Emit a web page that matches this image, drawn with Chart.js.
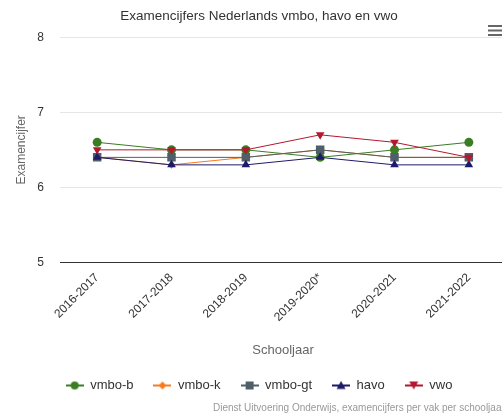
<!DOCTYPE html>
<html>
<head>
<meta charset="utf-8">
<script src="https://cdn.jsdelivr.net/npm/chart.js@4/dist/chart.umd.min.js"></script>
<style>
html,body{margin:0;padding:0;background:#fff;overflow:hidden;}
#wrap{position:relative;width:512px;height:419px;}
</style>
</head>
<body>
<div id="wrap"><canvas id="c"></canvas></div>
<script>
const categories = ['2016-2017','2017-2018','2018-2019','2019-2020*','2020-2021','2021-2022'];
const seriesNames = ['vmbo-b','vmbo-k','vmbo-gt','havo','vwo'];
const vmboB  = [6.6, 6.5, 6.5, 6.4, 6.5, 6.6];
const vmboK  = [6.4, 6.3, 6.4, 6.5, 6.4, 6.4];
const vmboGt = [6.4, 6.4, 6.4, 6.5, 6.4, 6.4];
const havo   = [6.4, 6.3, 6.3, 6.4, 6.3, 6.3];
const vwo    = [6.5, 6.5, 6.5, 6.7, 6.6, 6.4];
const yTicks = [5, 6, 7, 8];

const FONT = '"Liberation Sans", Arial, Helvetica, sans-serif';
const styles = [
  {color:'#3a7d23', pointStyle:'circle', radius:4.5, rotation:0},
  {color:'#f47c20', pointStyle:'rectRot', radius:4, rotation:0},
  {color:'#4f5f6a', pointStyle:'rect', radius:6, rotation:0},
  {color:'#1e1a6b', pointStyle:'triangle', radius:5, rotation:0},
  {color:'#b3182f', pointStyle:'triangle', radius:5, rotation:180}
];
const values = [vmboB, vmboK, vmboGt, havo, vwo];

function legendIcon(st){
  const cv = document.createElement('canvas');
  cv.width = 18; cv.height = 12;
  const g = cv.getContext('2d');
  g.strokeStyle = st.color; g.lineWidth = 2;
  g.beginPath(); g.moveTo(0,6); g.lineTo(18,6); g.stroke();
  g.fillStyle = st.color;
  g.beginPath();
  const x=9,y=6;
  if(st.pointStyle==='circle'){ g.arc(x,y,4,0,Math.PI*2); }
  else if(st.pointStyle==='rectRot'){ g.moveTo(x,y-4);g.lineTo(x+4,y);g.lineTo(x,y+4);g.lineTo(x-4,y); }
  else if(st.pointStyle==='rect'){ g.rect(x-4,y-4,8,8); }
  else if(st.rotation===180){ g.moveTo(x-4.5,y-4);g.lineTo(x+4.5,y-4);g.lineTo(x,y+4); }
  else { g.moveTo(x,y-4.5);g.lineTo(x+4.5,y+3.5);g.lineTo(x-4.5,y+3.5); }
  g.closePath(); g.fill();
  return cv;
}
const icons = styles.map(legendIcon);

const datasets = seriesNames.map((n,i)=>({
  label:n,
  data: values[i],
  borderColor: styles[i].color,
  backgroundColor: styles[i].color,
  borderWidth: 1,
  pointStyle: styles[i].pointStyle,
  pointRadius: styles[i].radius,
  pointHoverRadius: styles[i].radius,
  pointRotation: styles[i].rotation,
  pointBorderWidth: 0,
  tension: 0,
  order: seriesNames.length - i
}));

const extras = {
  id:'extras',
  afterDraw(chart){
    const ctx = chart.ctx;
    ctx.save();
    ctx.fillStyle = '#999';
    ctx.font = '10px ' + FONT;
    ctx.textBaseline = 'middle';
    ctx.textAlign = 'left';
    ctx.fillText('Dienst Uitvoering Onderwijs, examencijfers per vak per schooljaar', 213, 408);
    ctx.fillStyle = '#666';
    [25,29.5,34].forEach(yy=>ctx.fillRect(488, yy, 16, 2));
    ctx.restore();
  }
};

new Chart(document.getElementById('c'), {
  type:'line',
  data:{labels:categories, datasets},
  plugins:[extras],
  options:{
    responsive:true,
    maintainAspectRatio:false,
    animation:false,
    layout:{padding:{left:10, right:4, top:0, bottom:17}},
    plugins:{
      tooltip:{enabled:false},
      title:{
        display:true,
        text:'Examencijfers Nederlands vmbo, havo en vwo',
        color:'#333',
        font:{family:FONT, size:13.5, weight:'normal', lineHeight:1.2},
        padding:{top:8, bottom:13}
      },
      legend:{
        position:'bottom',
        labels:{
          usePointStyle:true,
          pointStyleWidth:18,
          padding:20,
          color:'#333',
          font:{family:FONT, size:13},
          generateLabels(chart){
            return chart.data.datasets.map((d,i)=>({
              text:d.label,
              pointStyle:icons[i],
              fillStyle:d.borderColor,
              strokeStyle:d.borderColor,
              fontColor:'#333',
              lineWidth:0,
              hidden:false,
              datasetIndex:i
            }));
          }
        }
      }
    },
    scales:{
      x:{
        offset:true,
        grid:{display:false, drawTicks:false},
        border:{display:true, color:'#333', width:1},
        ticks:{
          color:'#333', minRotation:45, maxRotation:45, padding:8,
          font:{family:FONT, size:12}
        },
        title:{display:true, text:'Schooljaar', color:'#666', font:{family:FONT, size:13}, padding:{top:4, bottom:1}},
        afterFit(s){ s.height = 96.5; }
      },
      y:{
        min:5, max:8,
        afterBuildTicks(s){ s.ticks = yTicks.map(v=>({value:v})); },
        grid:{color:'#e6e6e6', drawTicks:false},
        border:{display:false},
        ticks:{color:'#333', padding:16, font:{family:FONT, size:12}},
        title:{display:true, text:'Examencijfer', color:'#666', font:{family:FONT, size:12}},
        afterFit(s){ s.width = 50; }
      }
    }
  }
});
</script>
</body>
</html>
